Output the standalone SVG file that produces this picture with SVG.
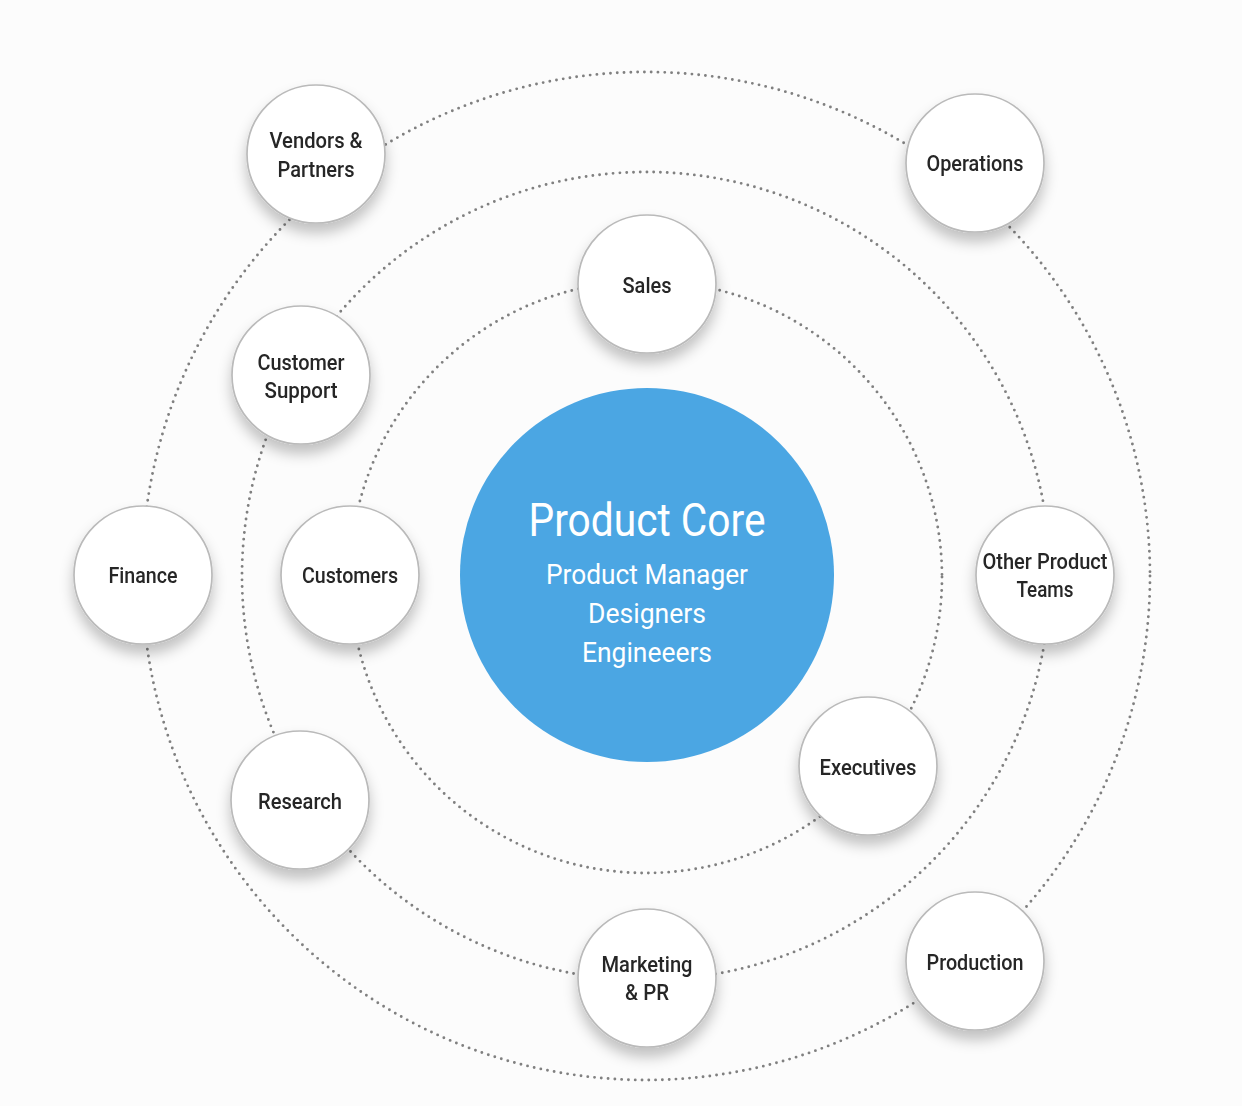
<svg xmlns="http://www.w3.org/2000/svg" width="1242" height="1106" viewBox="0 0 1242 1106">
<defs>
<filter id="sh" x="-40%" y="-40%" width="180%" height="190%">
<feDropShadow dx="0" dy="9" stdDeviation="7" flood-color="#000" flood-opacity="0.24"/>
</filter>
<style>
.orbit{fill:none;stroke:#808080;stroke-width:2.9;stroke-linecap:round;stroke-dasharray:0 6.8}
.node circle{fill:#fff;stroke:#bababa;stroke-width:1.7}
.lbl{font-family:Roboto,"Liberation Sans",sans-serif;font-size:22px;font-weight:500;fill:#262626;text-anchor:middle}
.core{font-family:Roboto,"Liberation Sans",sans-serif;fill:#fff;text-anchor:middle}
</style>
</defs>
<rect width="1242" height="1106" fill="#fcfcfc"/>
<g id="connectors">
<circle class="orbit" cx="646" cy="577" r="296"/>
<circle class="orbit" cx="646" cy="576" r="404"/>
<circle class="orbit" cx="646" cy="576" r="504"/>
</g>
<g id="core">
<circle cx="647" cy="575" r="187" fill="#4ba6e3"/>
<text class="core" x="647" y="536" font-size="46" textLength="237" lengthAdjust="spacingAndGlyphs">Product Core</text>
<text class="core" x="647" y="584" font-size="28" textLength="202" lengthAdjust="spacingAndGlyphs">Product Manager</text>
<text class="core" x="647" y="623" font-size="28" textLength="118" lengthAdjust="spacingAndGlyphs">Designers</text>
<text class="core" x="647" y="662" font-size="28" textLength="130" lengthAdjust="spacingAndGlyphs">Engineeers</text>
</g>
<g id="vendors" class="node" filter="url(#sh)"><circle cx="316" cy="154" r="69"/>
<text class="lbl" x="316" y="148" textLength="93" lengthAdjust="spacingAndGlyphs">Vendors &amp;</text>
<text class="lbl" x="316" y="177" textLength="77" lengthAdjust="spacingAndGlyphs">Partners</text></g>
<g id="operations" class="node" filter="url(#sh)"><circle cx="975" cy="163" r="69"/>
<text class="lbl" x="975" y="171" textLength="97" lengthAdjust="spacingAndGlyphs">Operations</text></g>
<g id="sales" class="node" filter="url(#sh)"><circle cx="647" cy="284" r="69"/>
<text class="lbl" x="647" y="293" textLength="49" lengthAdjust="spacingAndGlyphs">Sales</text></g>
<g id="customer-support" class="node" filter="url(#sh)"><circle cx="301" cy="375" r="69"/>
<text class="lbl" x="301" y="370" textLength="87" lengthAdjust="spacingAndGlyphs">Customer</text>
<text class="lbl" x="301" y="398" textLength="73" lengthAdjust="spacingAndGlyphs">Support</text></g>
<g id="finance" class="node" filter="url(#sh)"><circle cx="143" cy="575" r="69"/>
<text class="lbl" x="143" y="583" textLength="69" lengthAdjust="spacingAndGlyphs">Finance</text></g>
<g id="customers" class="node" filter="url(#sh)"><circle cx="350" cy="575" r="69"/>
<text class="lbl" x="350" y="583" textLength="96" lengthAdjust="spacingAndGlyphs">Customers</text></g>
<g id="other-product-teams" class="node" filter="url(#sh)"><circle cx="1045" cy="575" r="69"/>
<text class="lbl" x="1045" y="569" textLength="125" lengthAdjust="spacingAndGlyphs">Other Product</text>
<text class="lbl" x="1045" y="597" textLength="57" lengthAdjust="spacingAndGlyphs">Teams</text></g>
<g id="executives" class="node" filter="url(#sh)"><circle cx="868" cy="766" r="69"/>
<text class="lbl" x="868" y="775" textLength="97" lengthAdjust="spacingAndGlyphs">Executives</text></g>
<g id="research" class="node" filter="url(#sh)"><circle cx="300" cy="800" r="69"/>
<text class="lbl" x="300" y="809" textLength="84" lengthAdjust="spacingAndGlyphs">Research</text></g>
<g id="marketing" class="node" filter="url(#sh)"><circle cx="647" cy="978" r="69"/>
<text class="lbl" x="647" y="972" textLength="91" lengthAdjust="spacingAndGlyphs">Marketing</text>
<text class="lbl" x="647" y="1000" textLength="44" lengthAdjust="spacingAndGlyphs">&amp; PR</text></g>
<g id="production" class="node" filter="url(#sh)"><circle cx="975" cy="961" r="69"/>
<text class="lbl" x="975" y="970" textLength="97" lengthAdjust="spacingAndGlyphs">Production</text></g>
</svg>
